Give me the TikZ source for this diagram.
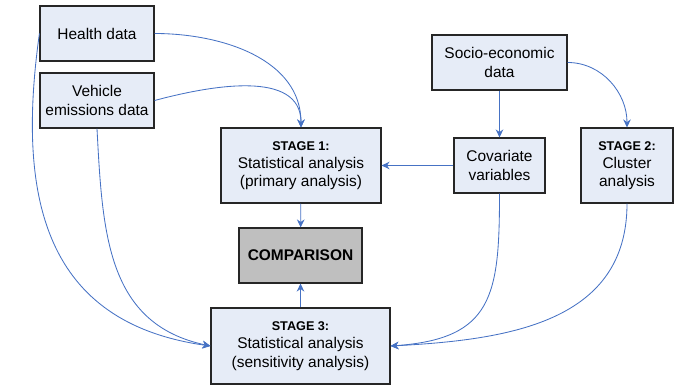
\documentclass[tikz,border=0pt]{standalone}
\usepackage{fontspec}
\setmainfont{Liberation Sans}
\usetikzlibrary{arrows.meta,positioning}
\definecolor{boxfill}{RGB}{230,236,247}
\definecolor{cmpfill}{RGB}{191,191,191}
\definecolor{linkblue}{RGB}{70,114,196}
\tikzset{
  box/.style    = {draw=black!85, line width=0.8pt, fill=boxfill, align=center,
                   inner sep=1pt, font=\fontsize{11}{13}\selectfont},
  smallbox/.style = {box, minimum width=2.85cm, minimum height=1.375cm},
  stagebox/.style = {box, minimum height=1.875cm},
  cmpbox/.style = {box, fill=cmpfill, font=\fontsize{11}{13}\selectfont\bfseries,
                   minimum width=3.075cm, minimum height=1.375cm},
  link/.style   = {-{Stealth[length=2mm,width=1.9mm]}, linkblue, line width=0.6pt},
}
\newcommand{\stagehead}[1]{{\fontsize{9}{13}\selectfont\bfseries #1}}
\begin{document}
\begin{tikzpicture}[x=0.025cm,y=-0.025cm]
  \useasboundingbox (0,0) rectangle (675,386);
  % boxes
  \node[smallbox] (health)  at (97,33.5)   {Health data};
  \node[smallbox] (vehicle) at (97,100.5)  {Vehicle\\emissions data};
  \node[box, minimum width=3.375cm, minimum height=1.375cm] (socio) at (499.5,62.5) {Socio-economic\\data};
  \node[stagebox, minimum width=4cm] (stage1) at (301,165.5)
      {\stagehead{STAGE 1:}\\Statistical analysis\\(primary analysis)};
  \node[box, minimum width=2.275cm, minimum height=1.375cm] (covar) at (499.5,165.5) {Covariate\\variables};
  \node[stagebox, minimum width=2.3cm] (stage2) at (627,165.5)
      {\stagehead{STAGE 2:}\\Cluster\\analysis};
  \node[cmpbox] (cmp) at (300.5,255.5) {COMPARISON};
  \node[stagebox, minimum width=4.475cm, minimum height=1.9cm] (stage3) at (300.5,346)
      {\stagehead{STAGE 3:}\\Statistical analysis\\(sensitivity analysis)};
  % connectors
  \draw[link] (health.east) to[out=0,in=90] (stage1.north);
  \draw[link] (vehicle.east) to[out=15,in=90] (stage1.north);
  \draw[link] (socio.east) to[out=0,in=90] (stage2.north);
  \draw[link] (socio) -- (covar);
  \draw[link] (covar) -- (stage1);
  \draw[link] (stage1) -- (cmp);
  \draw[link] (stage3) -- (cmp);
  \draw[link] (health.west) to[out=262,in=172,looseness=1.2] (stage3.west);
  \draw[link] (vehicle.south) to[out=-87,in=168,looseness=1.1] (stage3.west);
  \draw[link] (covar.south) to[out=-90,in=4,looseness=1.4] (stage3.east);
  \draw[link] (stage2.south) to[out=-90,in=3,looseness=1.1] (stage3.east);
\end{tikzpicture}
\end{document}
